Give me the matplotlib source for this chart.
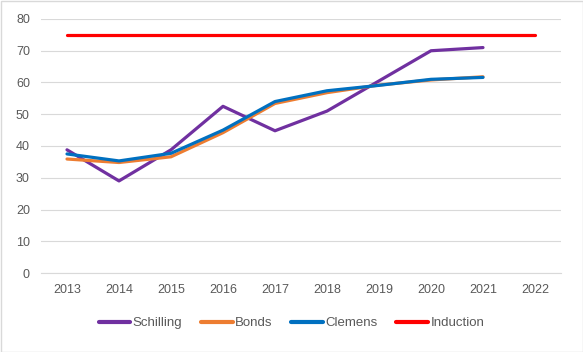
import numpy as np
import matplotlib.pyplot as plt
from matplotlib.patches import Rectangle

# DATA
years = ["2013", "2014", "2015", "2016", "2017", "2018", "2019", "2020", "2021", "2022"]
schilling = [38.8, 29.0, 38.8, 52.5, 44.8, 51.0, 60.5, 70.0, 71.0]
bonds = [35.9, 34.8, 36.6, 44.2, 53.4, 56.8, 59.2, 60.8, 61.8]
clemens = [37.5, 35.3, 37.7, 45.0, 54.0, 57.4, 59.1, 61.0, 61.6]
induction = [75, 75, 75, 75, 75, 75, 75, 75, 75, 75]

plt.rcParams['font.family'] = ['Liberation Sans', 'DejaVu Sans']

fig = plt.figure(figsize=(5.83, 3.52), dpi=100)
ax = fig.add_axes([41/583, 1 - 273/352, 520/583, 254/352])

x = np.arange(len(years))
lw = 2.3
ax.plot(x[:len(schilling)], schilling, color="#7030A0", lw=lw, label="Schilling", solid_capstyle="round")
ax.plot(x[:len(bonds)], bonds, color="#ED7D31", lw=lw, label="Bonds", solid_capstyle="round")
ax.plot(x[:len(clemens)], clemens, color="#0070C0", lw=lw, label="Clemens", solid_capstyle="round")
ax.plot(x, induction, color="#FF0000", lw=lw, label="Induction", solid_capstyle="round")

ax.set_xlim(-0.5, len(years) - 0.5)
ax.set_ylim(0, 80)
ax.set_yticks(range(0, 81, 10))
ax.set_xticks(x)
ax.set_xticklabels(years)
ax.grid(axis="y", color="#D9D9D9", lw=0.8)
ax.set_axisbelow(True)
for s in ["top", "right", "left"]:
    ax.spines[s].set_visible(False)
ax.spines["bottom"].set_color("#D9D9D9")
ax.tick_params(length=0, labelsize=9, colors="#595959", pad=8)

leg = fig.legend(loc="center", bbox_to_anchor=(0.5, 1 - 323/352), ncol=4, frameon=False,
                 fontsize=9.5, handlelength=2.4, handletextpad=0.2, columnspacing=1.4)
for t in leg.get_texts():
    t.set_color("#595959")
for h in leg.get_lines():
    h.set_linewidth(3)

fig.patches.append(Rectangle((0.5/583, 0.5/352), 1 - 1/583, 1 - 1/352, transform=fig.transFigure,
                             fill=False, edgecolor="#D9D9D9", lw=1))

fig.savefig("out.png", dpi=100)
